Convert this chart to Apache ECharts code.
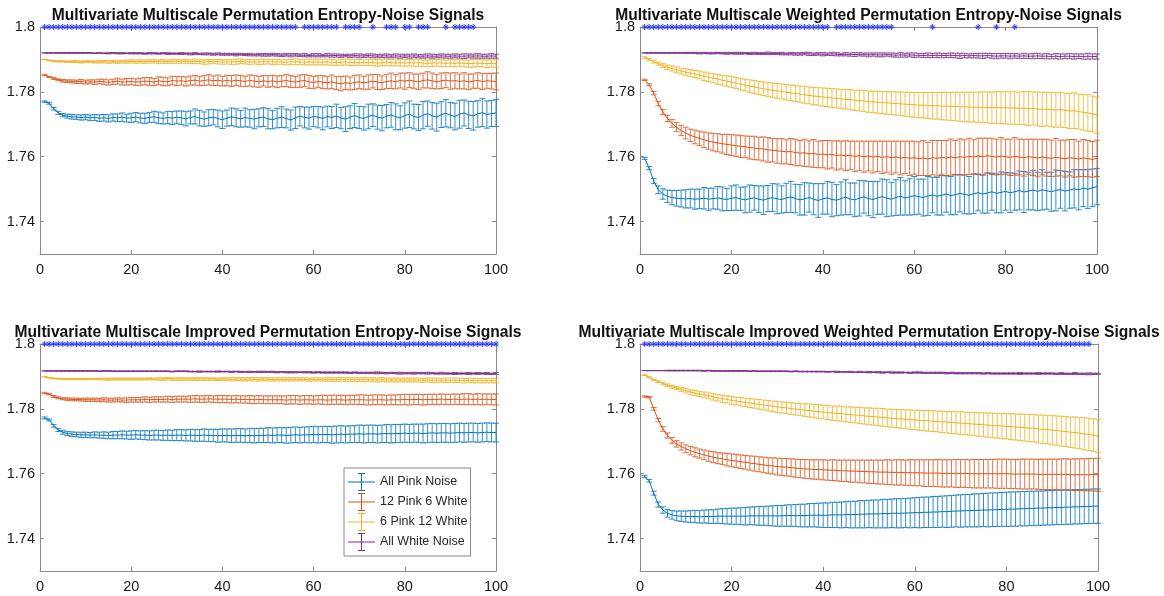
<!DOCTYPE html>
<html><head><meta charset="utf-8">
<script src="https://cdn.jsdelivr.net/npm/echarts@6/dist/echarts.min.js"></script>
<style>html,body{margin:0;padding:0;background:#fff}#c{width:1164px;height:596px}</style>
</head><body><div id="c"></div>
<script>
// ---------------- DATA ----------------
const scales = [1,2,3,4,5,6,7,8,9,10,11,12,13,14,15,16,17,18,19,20,21,22,23,24,25,26,27,28,29,30,31,32,33,34,35,36,37,38,39,40,41,42,43,44,45,46,47,48,49,50,51,52,53,54,55,56,57,58,59,60,61,62,63,64,65,66,67,68,69,70,71,72,73,74,75,76,77,78,79,80,81,82,83,84,85,86,87,88,89,90,91,92,93,94,95,96,97,98,99,100];
const seriesNames = ['All Pink Noise','12 Pink 6 White','6 Pink 12 White','All White Noise'];
const panelTitles = [
  'Multivariate Multiscale Permutation Entropy-Noise Signals',
  'Multivariate Multiscale Weighted Permutation Entropy-Noise Signals',
  'Multivariate Multiscale Improved Permutation Entropy-Noise Signals',
  'Multivariate Multiscale Improved Weighted Permutation Entropy-Noise Signals'
];
const yTickValues = [1.74, 1.76, 1.78, 1.8];
const sigLevel = 1.8;

// Panel 1: MMPE
const pe_pink = [1.7770,1.7765,1.7748,1.7735,1.7728,1.7725,1.7723,1.7722,1.7721,1.7722,
1.7720,1.7721,1.7719,1.7720,1.7718,1.7721,1.7720,1.7722,1.7719,1.7720,
1.7722,1.7719,1.7718,1.7721,1.7723,1.7720,1.7718,1.7721,1.7719,1.7722,
1.7720,1.7717,1.7721,1.7724,1.7719,1.7716,1.7720,1.7722,1.7718,1.7714,
1.7719,1.7723,1.7720,1.7717,1.7721,1.7718,1.7716,1.7720,1.7722,1.7717,
1.7714,1.7719,1.7722,1.7718,1.7713,1.7720,1.7725,1.7721,1.7719,1.7724,
1.7722,1.7718,1.7724,1.7721,1.7726,1.7719,1.7716,1.7722,1.7727,1.7721,
1.7718,1.7724,1.7728,1.7722,1.7719,1.7725,1.7729,1.7723,1.7720,1.7727,
1.7731,1.7724,1.7721,1.7728,1.7733,1.7726,1.7722,1.7730,1.7734,1.7728,
1.7724,1.7731,1.7735,1.7729,1.7726,1.7732,1.7736,1.7730,1.7733,1.7735];
const pe_pink_err = [0.0002,0.0003,0.0004,0.0005,0.0005,0.0006,0.0007,0.0007,0.0008,0.0008,
0.0009,0.0009,0.0010,0.0010,0.0011,0.0011,0.0012,0.0013,0.0012,0.0014,
0.0014,0.0015,0.0016,0.0015,0.0017,0.0018,0.0017,0.0019,0.0020,0.0019,
0.0021,0.0022,0.0020,0.0023,0.0024,0.0022,0.0025,0.0024,0.0026,0.0027,
0.0025,0.0027,0.0028,0.0026,0.0029,0.0027,0.0030,0.0028,0.0029,0.0031,
0.0028,0.0030,0.0032,0.0029,0.0031,0.0033,0.0030,0.0032,0.0034,0.0031,
0.0033,0.0035,0.0032,0.0034,0.0036,0.0033,0.0038,0.0035,0.0037,0.0034,
0.0036,0.0038,0.0035,0.0037,0.0039,0.0036,0.0038,0.0040,0.0037,0.0039,
0.0041,0.0038,0.0040,0.0042,0.0039,0.0041,0.0043,0.0040,0.0042,0.0039,
0.0041,0.0043,0.0040,0.0042,0.0044,0.0041,0.0043,0.0042,0.0040,0.0042];
const pe_126 = [1.7852,1.7846,1.7841,1.7837,1.7834,1.7833,1.7832,1.7831,1.7832,1.7830,
1.7831,1.7830,1.7832,1.7831,1.7829,1.7831,1.7833,1.7830,1.7831,1.7832,
1.7830,1.7831,1.7833,1.7832,1.7830,1.7834,1.7832,1.7831,1.7835,1.7833,
1.7834,1.7832,1.7835,1.7836,1.7833,1.7835,1.7837,1.7834,1.7836,1.7833,
1.7835,1.7833,1.7836,1.7834,1.7832,1.7835,1.7833,1.7831,1.7834,1.7832,
1.7834,1.7831,1.7833,1.7835,1.7832,1.7830,1.7833,1.7835,1.7831,1.7829,
1.7832,1.7830,1.7828,1.7831,1.7827,1.7825,1.7828,1.7826,1.7829,1.7831,
1.7828,1.7830,1.7833,1.7830,1.7828,1.7832,1.7834,1.7831,1.7835,1.7833,
1.7836,1.7833,1.7831,1.7835,1.7837,1.7834,1.7831,1.7834,1.7836,1.7833,
1.7835,1.7832,1.7834,1.7831,1.7833,1.7835,1.7832,1.7834,1.7833,1.7832];
const pe_126_err = [0.0002,0.0002,0.0003,0.0003,0.0004,0.0004,0.0005,0.0005,0.0006,0.0006,
0.0006,0.0007,0.0007,0.0008,0.0008,0.0008,0.0009,0.0009,0.0010,0.0010,
0.0010,0.0011,0.0011,0.0012,0.0011,0.0012,0.0013,0.0012,0.0013,0.0014,
0.0013,0.0014,0.0014,0.0015,0.0014,0.0015,0.0016,0.0015,0.0016,0.0015,
0.0016,0.0017,0.0016,0.0017,0.0016,0.0017,0.0018,0.0017,0.0016,0.0018,
0.0017,0.0018,0.0017,0.0019,0.0018,0.0017,0.0019,0.0018,0.0020,0.0019,
0.0018,0.0020,0.0019,0.0021,0.0020,0.0022,0.0021,0.0020,0.0022,0.0021,
0.0020,0.0022,0.0021,0.0023,0.0021,0.0022,0.0024,0.0022,0.0023,0.0025,
0.0023,0.0022,0.0024,0.0023,0.0025,0.0024,0.0022,0.0024,0.0023,0.0025,
0.0024,0.0023,0.0025,0.0024,0.0022,0.0024,0.0025,0.0023,0.0024,0.0026];
const pe_612 = [1.7900,1.7897,1.7895,1.7894,1.7894,1.7893,1.7893,1.7893,1.7892,1.7893,
1.7893,1.7892,1.7893,1.7893,1.7892,1.7893,1.7892,1.7893,1.7893,1.7894,
1.7893,1.7894,1.7893,1.7894,1.7894,1.7893,1.7894,1.7893,1.7894,1.7894,
1.7893,1.7894,1.7893,1.7894,1.7893,1.7892,1.7893,1.7894,1.7893,1.7892,
1.7893,1.7892,1.7893,1.7894,1.7893,1.7892,1.7893,1.7892,1.7893,1.7893,
1.7892,1.7893,1.7892,1.7891,1.7892,1.7893,1.7892,1.7891,1.7892,1.7891,
1.7892,1.7891,1.7892,1.7891,1.7890,1.7891,1.7892,1.7891,1.7890,1.7891,
1.7890,1.7891,1.7890,1.7889,1.7890,1.7891,1.7890,1.7889,1.7890,1.7889,
1.7890,1.7889,1.7890,1.7889,1.7888,1.7889,1.7890,1.7889,1.7888,1.7889,
1.7888,1.7889,1.7888,1.7887,1.7888,1.7889,1.7888,1.7887,1.7888,1.7887];
const pe_612_err = [0.0001,0.0001,0.0002,0.0002,0.0002,0.0002,0.0003,0.0003,0.0003,0.0003,
0.0003,0.0003,0.0004,0.0004,0.0004,0.0004,0.0004,0.0004,0.0005,0.0005,
0.0005,0.0005,0.0005,0.0005,0.0005,0.0006,0.0006,0.0005,0.0006,0.0006,
0.0006,0.0006,0.0006,0.0007,0.0006,0.0007,0.0007,0.0006,0.0007,0.0007,
0.0007,0.0007,0.0008,0.0007,0.0007,0.0008,0.0007,0.0008,0.0008,0.0007,
0.0008,0.0008,0.0007,0.0008,0.0008,0.0009,0.0008,0.0008,0.0009,0.0008,
0.0009,0.0008,0.0009,0.0009,0.0008,0.0009,0.0009,0.0010,0.0009,0.0009,
0.0009,0.0010,0.0009,0.0010,0.0009,0.0010,0.0010,0.0009,0.0010,0.0010,
0.0010,0.0010,0.0011,0.0010,0.0010,0.0011,0.0010,0.0011,0.0010,0.0011,
0.0011,0.0010,0.0011,0.0011,0.0012,0.0011,0.0011,0.0012,0.0011,0.0012];
const pe_white = [1.7920,1.7920,1.7920,1.7920,1.7920,1.7920,1.7920,1.7920,1.7920,1.7920,
1.7920,1.7919,1.7920,1.7919,1.7919,1.7920,1.7919,1.7919,1.7919,1.7919,
1.7919,1.7919,1.7918,1.7919,1.7919,1.7918,1.7919,1.7918,1.7918,1.7918,
1.7918,1.7918,1.7917,1.7918,1.7917,1.7917,1.7917,1.7916,1.7917,1.7916,
1.7916,1.7916,1.7915,1.7916,1.7915,1.7915,1.7914,1.7915,1.7914,1.7914,
1.7915,1.7914,1.7913,1.7914,1.7913,1.7914,1.7913,1.7913,1.7912,1.7913,
1.7913,1.7912,1.7913,1.7912,1.7912,1.7911,1.7912,1.7911,1.7912,1.7911,
1.7911,1.7912,1.7911,1.7910,1.7911,1.7911,1.7910,1.7911,1.7910,1.7911,
1.7910,1.7911,1.7910,1.7910,1.7911,1.7910,1.7910,1.7911,1.7910,1.7910,
1.7911,1.7910,1.7910,1.7911,1.7910,1.7911,1.7910,1.7910,1.7911,1.7910];
const pe_white_err = [0.0000,0.0000,0.0000,0.0001,0.0001,0.0001,0.0001,0.0001,0.0001,0.0001,
0.0001,0.0001,0.0001,0.0001,0.0002,0.0001,0.0002,0.0002,0.0001,0.0002,
0.0002,0.0002,0.0002,0.0002,0.0002,0.0002,0.0002,0.0003,0.0002,0.0002,
0.0003,0.0002,0.0003,0.0003,0.0002,0.0003,0.0003,0.0003,0.0003,0.0003,
0.0003,0.0003,0.0004,0.0003,0.0003,0.0004,0.0003,0.0004,0.0004,0.0004,
0.0004,0.0004,0.0004,0.0004,0.0005,0.0004,0.0004,0.0005,0.0004,0.0005,
0.0005,0.0004,0.0005,0.0005,0.0005,0.0005,0.0004,0.0005,0.0005,0.0006,
0.0005,0.0005,0.0006,0.0005,0.0005,0.0006,0.0005,0.0006,0.0006,0.0005,
0.0006,0.0006,0.0005,0.0006,0.0006,0.0006,0.0005,0.0006,0.0006,0.0006,
0.0006,0.0006,0.0007,0.0006,0.0006,0.0007,0.0006,0.0006,0.0007,0.0006];
const pe_sig = [1,2,3,4,5,6,7,8,9,10,11,12,13,14,15,16,17,18,19,20,21,22,23,24,25,26,27,28,29,30,31,32,33,34,35,36,37,38,39,40,41,42,43,44,45,46,47,48,49,50,51,52,53,54,55,56,58,59,60,61,62,63,64,65,67,68,69,70,73,76,77,78,80,81,83,84,85,89,91,92,93,94,95];

// Panel 2: MMWPE
const wpe_pink = [1.7595,1.7565,1.7525,1.7498,1.7485,1.7478,1.7474,1.7472,1.7471,1.7470,
1.7471,1.7469,1.7470,1.7472,1.7469,1.7471,1.7473,1.7470,1.7468,1.7472,
1.7474,1.7470,1.7467,1.7471,1.7473,1.7469,1.7466,1.7471,1.7474,1.7470,
1.7468,1.7473,1.7476,1.7471,1.7467,1.7470,1.7474,1.7469,1.7465,1.7470,
1.7473,1.7468,1.7466,1.7471,1.7475,1.7470,1.7467,1.7472,1.7476,1.7471,
1.7468,1.7473,1.7477,1.7472,1.7469,1.7474,1.7478,1.7473,1.7476,1.7480,
1.7477,1.7474,1.7479,1.7482,1.7478,1.7481,1.7485,1.7480,1.7483,1.7487,
1.7484,1.7481,1.7486,1.7489,1.7485,1.7488,1.7492,1.7487,1.7490,1.7493,
1.7489,1.7492,1.7496,1.7491,1.7494,1.7497,1.7493,1.7498,1.7495,1.7492,
1.7496,1.7499,1.7494,1.7497,1.7501,1.7498,1.7503,1.7500,1.7504,1.7508];
const wpe_pink_err = [0.0003,0.0005,0.0008,0.0012,0.0016,0.0019,0.0022,0.0024,0.0026,0.0028,
0.0029,0.0031,0.0030,0.0033,0.0034,0.0032,0.0035,0.0037,0.0034,0.0038,
0.0039,0.0036,0.0040,0.0042,0.0038,0.0041,0.0044,0.0040,0.0043,0.0046,
0.0042,0.0045,0.0048,0.0044,0.0047,0.0050,0.0045,0.0048,0.0052,0.0047,
0.0050,0.0053,0.0048,0.0051,0.0054,0.0049,0.0052,0.0055,0.0050,0.0053,
0.0056,0.0051,0.0054,0.0057,0.0052,0.0055,0.0058,0.0053,0.0056,0.0059,
0.0054,0.0057,0.0060,0.0055,0.0058,0.0061,0.0056,0.0059,0.0062,0.0057,
0.0060,0.0058,0.0061,0.0056,0.0059,0.0062,0.0057,0.0060,0.0063,0.0058,
0.0061,0.0057,0.0060,0.0063,0.0058,0.0061,0.0059,0.0062,0.0057,0.0060,
0.0063,0.0058,0.0061,0.0056,0.0059,0.0062,0.0057,0.0060,0.0058,0.0056];
const wpe_126 = [1.7837,1.7822,1.7796,1.7764,1.7738,1.7718,1.7703,1.7691,1.7681,1.7673,
1.7666,1.7661,1.7657,1.7652,1.7648,1.7645,1.7643,1.7640,1.7638,1.7636,
1.7634,1.7632,1.7631,1.7628,1.7627,1.7625,1.7624,1.7621,1.7620,1.7618,
1.7617,1.7615,1.7616,1.7613,1.7611,1.7612,1.7609,1.7610,1.7607,1.7608,
1.7606,1.7607,1.7604,1.7605,1.7603,1.7604,1.7601,1.7603,1.7600,1.7602,
1.7599,1.7601,1.7598,1.7600,1.7597,1.7599,1.7596,1.7598,1.7595,1.7597,
1.7594,1.7596,1.7593,1.7597,1.7595,1.7598,1.7596,1.7599,1.7597,1.7600,
1.7598,1.7601,1.7599,1.7602,1.7600,1.7603,1.7601,1.7599,1.7602,1.7600,
1.7598,1.7601,1.7599,1.7597,1.7600,1.7598,1.7596,1.7599,1.7597,1.7595,
1.7598,1.7596,1.7594,1.7597,1.7595,1.7593,1.7596,1.7594,1.7592,1.7595];
const wpe_126_err = [0.0002,0.0003,0.0005,0.0007,0.0008,0.0010,0.0012,0.0014,0.0016,0.0018,
0.0019,0.0021,0.0022,0.0024,0.0025,0.0027,0.0028,0.0029,0.0031,0.0032,
0.0033,0.0034,0.0033,0.0035,0.0036,0.0035,0.0037,0.0038,0.0036,0.0038,
0.0039,0.0037,0.0040,0.0041,0.0039,0.0042,0.0040,0.0043,0.0041,0.0042,
0.0044,0.0042,0.0045,0.0043,0.0046,0.0044,0.0047,0.0045,0.0048,0.0046,
0.0049,0.0047,0.0050,0.0048,0.0051,0.0049,0.0052,0.0050,0.0053,0.0051,
0.0052,0.0054,0.0051,0.0053,0.0055,0.0052,0.0054,0.0056,0.0053,0.0055,
0.0054,0.0056,0.0053,0.0055,0.0057,0.0054,0.0056,0.0055,0.0057,0.0054,
0.0056,0.0058,0.0055,0.0057,0.0054,0.0056,0.0058,0.0055,0.0057,0.0056,
0.0058,0.0055,0.0057,0.0056,0.0058,0.0055,0.0057,0.0056,0.0055,0.0056];
const wpe_612 = [1.7906,1.7900,1.7893,1.7887,1.7881,1.7876,1.7872,1.7868,1.7864,1.7861,
1.7858,1.7855,1.7852,1.7848,1.7845,1.7842,1.7839,1.7836,1.7833,1.7830,
1.7827,1.7824,1.7821,1.7818,1.7815,1.7812,1.7810,1.7807,1.7805,1.7803,
1.7801,1.7799,1.7797,1.7795,1.7793,1.7791,1.7789,1.7787,1.7786,1.7784,
1.7783,1.7781,1.7780,1.7778,1.7777,1.7776,1.7774,1.7773,1.7772,1.7770,
1.7769,1.7768,1.7767,1.7766,1.7765,1.7764,1.7763,1.7762,1.7761,1.7760,
1.7759,1.7759,1.7758,1.7757,1.7757,1.7756,1.7756,1.7755,1.7755,1.7754,
1.7754,1.7753,1.7753,1.7752,1.7753,1.7752,1.7751,1.7752,1.7751,1.7751,
1.7750,1.7751,1.7749,1.7750,1.7748,1.7749,1.7747,1.7746,1.7747,1.7745,
1.7744,1.7745,1.7743,1.7741,1.7742,1.7739,1.7737,1.7735,1.7732,1.7728];
const wpe_612_err = [0.0002,0.0003,0.0004,0.0005,0.0006,0.0007,0.0008,0.0009,0.0009,0.0010,
0.0011,0.0011,0.0012,0.0013,0.0013,0.0014,0.0015,0.0015,0.0016,0.0017,
0.0017,0.0018,0.0018,0.0019,0.0020,0.0020,0.0021,0.0021,0.0022,0.0023,
0.0023,0.0024,0.0024,0.0025,0.0025,0.0026,0.0026,0.0027,0.0027,0.0028,
0.0028,0.0029,0.0029,0.0030,0.0030,0.0031,0.0031,0.0032,0.0032,0.0033,
0.0033,0.0034,0.0034,0.0035,0.0035,0.0036,0.0036,0.0037,0.0038,0.0038,
0.0039,0.0039,0.0040,0.0041,0.0041,0.0042,0.0043,0.0043,0.0044,0.0045,
0.0045,0.0046,0.0046,0.0047,0.0047,0.0048,0.0048,0.0049,0.0049,0.0050,
0.0050,0.0051,0.0050,0.0051,0.0052,0.0051,0.0052,0.0053,0.0052,0.0053,
0.0053,0.0054,0.0053,0.0054,0.0055,0.0054,0.0055,0.0056,0.0055,0.0056];
const wpe_white = [1.7920,1.7920,1.7920,1.7920,1.7920,1.7920,1.7920,1.7920,1.7920,1.7920,
1.7920,1.7920,1.7919,1.7920,1.7919,1.7919,1.7920,1.7919,1.7919,1.7919,
1.7919,1.7919,1.7919,1.7918,1.7919,1.7918,1.7918,1.7919,1.7918,1.7918,
1.7918,1.7917,1.7918,1.7917,1.7917,1.7918,1.7917,1.7916,1.7917,1.7916,
1.7916,1.7917,1.7916,1.7915,1.7916,1.7915,1.7915,1.7916,1.7915,1.7914,
1.7915,1.7914,1.7914,1.7915,1.7914,1.7913,1.7914,1.7913,1.7914,1.7913,
1.7913,1.7912,1.7913,1.7912,1.7913,1.7912,1.7912,1.7913,1.7912,1.7911,
1.7912,1.7911,1.7912,1.7911,1.7911,1.7912,1.7911,1.7910,1.7911,1.7911,
1.7910,1.7911,1.7910,1.7911,1.7910,1.7910,1.7911,1.7910,1.7910,1.7909,
1.7910,1.7909,1.7910,1.7910,1.7909,1.7910,1.7909,1.7910,1.7909,1.7909];
const wpe_white_err = [0.0000,0.0000,0.0001,0.0001,0.0001,0.0001,0.0001,0.0001,0.0001,0.0002,
0.0001,0.0002,0.0002,0.0002,0.0002,0.0002,0.0002,0.0002,0.0003,0.0002,
0.0003,0.0003,0.0002,0.0003,0.0003,0.0003,0.0003,0.0004,0.0003,0.0003,
0.0004,0.0003,0.0004,0.0004,0.0004,0.0004,0.0005,0.0004,0.0004,0.0005,
0.0004,0.0005,0.0005,0.0004,0.0005,0.0005,0.0006,0.0005,0.0005,0.0006,
0.0005,0.0006,0.0006,0.0005,0.0006,0.0006,0.0007,0.0006,0.0006,0.0007,
0.0006,0.0006,0.0007,0.0006,0.0007,0.0007,0.0006,0.0007,0.0007,0.0008,
0.0007,0.0006,0.0007,0.0007,0.0008,0.0007,0.0007,0.0008,0.0007,0.0007,
0.0008,0.0007,0.0007,0.0008,0.0007,0.0008,0.0008,0.0007,0.0008,0.0007,
0.0008,0.0008,0.0007,0.0008,0.0008,0.0007,0.0008,0.0009,0.0008,0.0008];
const wpe_sig = [1,2,3,4,5,6,7,8,9,10,11,12,13,14,15,16,17,18,19,20,21,22,23,24,25,26,27,28,29,30,31,32,33,34,35,36,37,38,39,40,41,43,44,45,46,47,48,49,50,51,52,53,54,55,64,74,78,82];

// Panel 3: MMIPE
const ipe_pink = [1.7772,1.7766,1.7748,1.7735,1.7728,1.7724,1.7722,1.7721,1.7720,1.7720,
1.7719,1.7720,1.7719,1.7719,1.7718,1.7719,1.7719,1.7720,1.7719,1.7719,
1.7720,1.7719,1.7719,1.7718,1.7719,1.7719,1.7718,1.7719,1.7718,1.7719,
1.7719,1.7718,1.7719,1.7718,1.7718,1.7719,1.7718,1.7718,1.7717,1.7718,
1.7718,1.7717,1.7718,1.7718,1.7717,1.7718,1.7717,1.7718,1.7718,1.7719,
1.7718,1.7719,1.7719,1.7718,1.7719,1.7720,1.7719,1.7720,1.7720,1.7721,
1.7720,1.7721,1.7721,1.7720,1.7721,1.7722,1.7721,1.7722,1.7722,1.7723,
1.7722,1.7723,1.7723,1.7722,1.7723,1.7724,1.7723,1.7724,1.7724,1.7725,
1.7724,1.7725,1.7725,1.7724,1.7725,1.7726,1.7725,1.7726,1.7726,1.7725,
1.7726,1.7727,1.7726,1.7727,1.7727,1.7726,1.7727,1.7728,1.7727,1.7727];
const ipe_pink_err = [0.0003,0.0003,0.0004,0.0005,0.0006,0.0006,0.0007,0.0007,0.0008,0.0008,
0.0008,0.0009,0.0009,0.0010,0.0010,0.0011,0.0011,0.0012,0.0012,0.0013,
0.0013,0.0013,0.0014,0.0014,0.0015,0.0015,0.0015,0.0016,0.0016,0.0017,
0.0017,0.0017,0.0018,0.0018,0.0018,0.0019,0.0019,0.0019,0.0020,0.0020,
0.0020,0.0021,0.0021,0.0021,0.0021,0.0022,0.0022,0.0022,0.0022,0.0023,
0.0023,0.0023,0.0023,0.0024,0.0024,0.0024,0.0024,0.0024,0.0025,0.0025,
0.0025,0.0025,0.0025,0.0026,0.0026,0.0026,0.0026,0.0026,0.0026,0.0027,
0.0027,0.0027,0.0027,0.0027,0.0027,0.0028,0.0028,0.0028,0.0028,0.0028,
0.0028,0.0028,0.0028,0.0029,0.0029,0.0029,0.0029,0.0029,0.0029,0.0029,
0.0029,0.0029,0.0029,0.0029,0.0029,0.0029,0.0029,0.0029,0.0029,0.0029];
const ipe_126 = [1.7849,1.7845,1.7838,1.7834,1.7831,1.7830,1.7829,1.7829,1.7828,1.7828,
1.7828,1.7828,1.7827,1.7828,1.7827,1.7827,1.7828,1.7827,1.7827,1.7828,
1.7828,1.7828,1.7829,1.7828,1.7829,1.7829,1.7829,1.7830,1.7829,1.7830,
1.7830,1.7830,1.7830,1.7831,1.7830,1.7830,1.7831,1.7830,1.7830,1.7830,
1.7830,1.7829,1.7830,1.7829,1.7829,1.7829,1.7828,1.7829,1.7828,1.7828,
1.7828,1.7828,1.7828,1.7827,1.7828,1.7828,1.7827,1.7828,1.7828,1.7827,
1.7828,1.7828,1.7827,1.7828,1.7828,1.7828,1.7827,1.7828,1.7828,1.7828,
1.7828,1.7827,1.7828,1.7828,1.7828,1.7827,1.7828,1.7828,1.7828,1.7829,
1.7828,1.7829,1.7829,1.7828,1.7829,1.7829,1.7829,1.7830,1.7829,1.7829,
1.7830,1.7829,1.7830,1.7830,1.7829,1.7830,1.7829,1.7830,1.7829,1.7829];
const ipe_126_err = [0.0002,0.0002,0.0003,0.0003,0.0003,0.0004,0.0004,0.0004,0.0004,0.0005,
0.0005,0.0005,0.0005,0.0006,0.0006,0.0006,0.0006,0.0006,0.0007,0.0007,
0.0007,0.0007,0.0008,0.0008,0.0008,0.0008,0.0008,0.0009,0.0009,0.0009,
0.0009,0.0009,0.0010,0.0010,0.0010,0.0010,0.0010,0.0010,0.0011,0.0011,
0.0011,0.0011,0.0011,0.0011,0.0011,0.0012,0.0012,0.0012,0.0012,0.0012,
0.0012,0.0012,0.0012,0.0013,0.0013,0.0013,0.0013,0.0013,0.0013,0.0013,
0.0013,0.0014,0.0014,0.0014,0.0014,0.0014,0.0014,0.0014,0.0014,0.0015,
0.0015,0.0015,0.0015,0.0015,0.0015,0.0015,0.0015,0.0015,0.0016,0.0016,
0.0016,0.0016,0.0016,0.0016,0.0016,0.0016,0.0016,0.0016,0.0016,0.0016,
0.0016,0.0016,0.0017,0.0017,0.0016,0.0017,0.0017,0.0016,0.0017,0.0017];
const ipe_612 = [1.7899,1.7896,1.7894,1.7893,1.7892,1.7892,1.7892,1.7892,1.7892,1.7892,
1.7892,1.7892,1.7892,1.7892,1.7891,1.7892,1.7892,1.7892,1.7892,1.7892,
1.7892,1.7892,1.7892,1.7893,1.7892,1.7892,1.7892,1.7893,1.7892,1.7892,
1.7892,1.7892,1.7892,1.7892,1.7892,1.7892,1.7892,1.7892,1.7891,1.7892,
1.7892,1.7891,1.7892,1.7892,1.7891,1.7892,1.7891,1.7891,1.7892,1.7891,
1.7891,1.7891,1.7891,1.7891,1.7891,1.7891,1.7891,1.7891,1.7890,1.7891,
1.7891,1.7890,1.7891,1.7890,1.7890,1.7891,1.7890,1.7890,1.7890,1.7890,
1.7890,1.7890,1.7890,1.7889,1.7890,1.7889,1.7889,1.7889,1.7889,1.7889,
1.7889,1.7889,1.7889,1.7888,1.7889,1.7888,1.7888,1.7888,1.7888,1.7888,
1.7888,1.7888,1.7887,1.7888,1.7887,1.7887,1.7887,1.7887,1.7887,1.7887];
const ipe_612_err = [0.0001,0.0001,0.0001,0.0001,0.0002,0.0002,0.0002,0.0002,0.0002,0.0002,
0.0002,0.0002,0.0002,0.0003,0.0003,0.0003,0.0003,0.0003,0.0003,0.0003,
0.0003,0.0003,0.0003,0.0003,0.0003,0.0004,0.0004,0.0004,0.0004,0.0004,
0.0004,0.0004,0.0004,0.0004,0.0004,0.0004,0.0004,0.0004,0.0004,0.0004,
0.0004,0.0005,0.0005,0.0005,0.0005,0.0005,0.0005,0.0005,0.0005,0.0005,
0.0005,0.0005,0.0005,0.0005,0.0005,0.0005,0.0005,0.0005,0.0005,0.0005,
0.0005,0.0005,0.0006,0.0006,0.0006,0.0006,0.0006,0.0006,0.0006,0.0006,
0.0006,0.0006,0.0006,0.0006,0.0006,0.0006,0.0006,0.0006,0.0006,0.0006,
0.0006,0.0006,0.0006,0.0006,0.0006,0.0007,0.0007,0.0006,0.0007,0.0007,
0.0007,0.0007,0.0007,0.0007,0.0007,0.0007,0.0007,0.0007,0.0007,0.0007];
const ipe_white = [1.7917,1.7917,1.7917,1.7917,1.7917,1.7917,1.7917,1.7917,1.7917,1.7917,
1.7917,1.7917,1.7916,1.7917,1.7917,1.7916,1.7916,1.7916,1.7916,1.7916,
1.7916,1.7916,1.7916,1.7916,1.7916,1.7916,1.7916,1.7916,1.7915,1.7916,
1.7916,1.7916,1.7915,1.7915,1.7915,1.7915,1.7915,1.7915,1.7915,1.7915,
1.7915,1.7914,1.7915,1.7914,1.7914,1.7914,1.7914,1.7914,1.7914,1.7914,
1.7914,1.7913,1.7914,1.7913,1.7913,1.7913,1.7913,1.7913,1.7913,1.7912,
1.7913,1.7912,1.7912,1.7912,1.7912,1.7912,1.7912,1.7911,1.7912,1.7911,
1.7911,1.7911,1.7911,1.7911,1.7911,1.7910,1.7911,1.7910,1.7910,1.7910,
1.7910,1.7910,1.7910,1.7910,1.7910,1.7910,1.7909,1.7910,1.7909,1.7909,
1.7909,1.7909,1.7909,1.7909,1.7909,1.7909,1.7909,1.7909,1.7908,1.7909];
const ipe_white_err = [0.0000,0.0000,0.0000,0.0000,0.0001,0.0001,0.0001,0.0001,0.0001,0.0001,
0.0001,0.0001,0.0001,0.0001,0.0001,0.0001,0.0001,0.0001,0.0001,0.0001,
0.0001,0.0001,0.0001,0.0001,0.0001,0.0001,0.0001,0.0001,0.0001,0.0001,
0.0001,0.0001,0.0001,0.0001,0.0002,0.0001,0.0001,0.0001,0.0002,0.0001,
0.0001,0.0002,0.0001,0.0002,0.0001,0.0002,0.0001,0.0002,0.0002,0.0001,
0.0002,0.0002,0.0001,0.0002,0.0002,0.0002,0.0001,0.0002,0.0002,0.0002,
0.0002,0.0002,0.0002,0.0002,0.0002,0.0002,0.0002,0.0002,0.0002,0.0002,
0.0002,0.0002,0.0002,0.0003,0.0002,0.0002,0.0002,0.0002,0.0003,0.0002,
0.0002,0.0003,0.0002,0.0002,0.0003,0.0002,0.0002,0.0003,0.0002,0.0002,
0.0003,0.0002,0.0002,0.0003,0.0002,0.0003,0.0002,0.0003,0.0002,0.0003];
const ipe_sig = [1,2,3,4,5,6,7,8,9,10,11,12,13,14,15,16,17,18,19,20,21,22,23,24,25,26,27,28,29,30,31,32,33,34,35,36,37,38,39,40,41,42,43,44,45,46,47,48,49,50,51,52,53,54,55,56,57,58,59,60,61,62,63,64,65,66,67,68,69,70,71,72,73,74,75,76,77,78,79,80,81,82,83,84,85,86,87,88,89,90,91,92,93,94,95,96,97,98,99,100];

// Panel 4: MMIWPE
const iwpe_pink = [1.7592,1.7578,1.7540,1.7505,1.7488,1.7478,1.7473,1.7470,1.7469,1.7468,
1.7468,1.7468,1.7467,1.7468,1.7468,1.7468,1.7469,1.7469,1.7469,1.7469,
1.7469,1.7469,1.7469,1.7470,1.7470,1.7470,1.7470,1.7470,1.7470,1.7470,
1.7470,1.7471,1.7471,1.7471,1.7471,1.7471,1.7472,1.7472,1.7472,1.7472,
1.7472,1.7473,1.7473,1.7473,1.7474,1.7474,1.7474,1.7475,1.7475,1.7476,
1.7476,1.7476,1.7477,1.7477,1.7478,1.7478,1.7478,1.7479,1.7479,1.7480,
1.7480,1.7481,1.7481,1.7482,1.7482,1.7483,1.7483,1.7484,1.7485,1.7485,
1.7486,1.7486,1.7487,1.7487,1.7488,1.7488,1.7489,1.7489,1.7490,1.7490,
1.7491,1.7491,1.7492,1.7492,1.7493,1.7493,1.7494,1.7494,1.7495,1.7495,
1.7496,1.7496,1.7497,1.7497,1.7498,1.7498,1.7499,1.7499,1.7500,1.7500];
const iwpe_pink_err = [0.0003,0.0004,0.0006,0.0008,0.0010,0.0012,0.0013,0.0015,0.0016,0.0017,
0.0018,0.0019,0.0019,0.0020,0.0021,0.0021,0.0022,0.0023,0.0024,0.0025,
0.0025,0.0026,0.0027,0.0027,0.0028,0.0029,0.0029,0.0030,0.0031,0.0032,
0.0032,0.0033,0.0033,0.0034,0.0035,0.0035,0.0036,0.0036,0.0037,0.0038,
0.0038,0.0039,0.0039,0.0040,0.0040,0.0041,0.0041,0.0042,0.0042,0.0042,
0.0043,0.0043,0.0044,0.0044,0.0044,0.0045,0.0045,0.0045,0.0046,0.0046,
0.0047,0.0047,0.0047,0.0048,0.0048,0.0048,0.0049,0.0049,0.0049,0.0050,
0.0050,0.0050,0.0051,0.0051,0.0051,0.0052,0.0052,0.0052,0.0052,0.0053,
0.0053,0.0053,0.0053,0.0053,0.0053,0.0053,0.0053,0.0053,0.0053,0.0053,
0.0053,0.0053,0.0053,0.0053,0.0053,0.0053,0.0053,0.0053,0.0053,0.0053];
const iwpe_126 = [1.7838,1.7836,1.7800,1.7765,1.7738,1.7718,1.7703,1.7692,1.7684,1.7677,
1.7671,1.7666,1.7662,1.7658,1.7654,1.7651,1.7648,1.7646,1.7643,1.7641,
1.7639,1.7637,1.7635,1.7633,1.7631,1.7629,1.7627,1.7625,1.7624,1.7622,
1.7621,1.7620,1.7619,1.7617,1.7616,1.7615,1.7614,1.7613,1.7613,1.7612,
1.7611,1.7611,1.7610,1.7609,1.7609,1.7608,1.7608,1.7607,1.7607,1.7606,
1.7606,1.7605,1.7605,1.7605,1.7604,1.7604,1.7604,1.7603,1.7603,1.7603,
1.7603,1.7602,1.7602,1.7602,1.7602,1.7601,1.7601,1.7601,1.7601,1.7601,
1.7601,1.7600,1.7600,1.7600,1.7600,1.7600,1.7600,1.7600,1.7600,1.7600,
1.7599,1.7599,1.7599,1.7599,1.7599,1.7599,1.7598,1.7598,1.7598,1.7598,
1.7598,1.7598,1.7598,1.7597,1.7597,1.7597,1.7597,1.7597,1.7597,1.7597];
const iwpe_126_err = [0.0002,0.0002,0.0004,0.0005,0.0007,0.0008,0.0009,0.0010,0.0011,0.0012,
0.0013,0.0014,0.0014,0.0015,0.0016,0.0017,0.0017,0.0018,0.0019,0.0020,
0.0020,0.0021,0.0021,0.0022,0.0023,0.0023,0.0024,0.0024,0.0025,0.0026,
0.0026,0.0027,0.0027,0.0028,0.0028,0.0029,0.0029,0.0030,0.0030,0.0031,
0.0031,0.0032,0.0032,0.0033,0.0033,0.0034,0.0034,0.0035,0.0035,0.0036,
0.0036,0.0037,0.0037,0.0038,0.0038,0.0039,0.0039,0.0039,0.0040,0.0040,
0.0040,0.0041,0.0041,0.0041,0.0042,0.0042,0.0042,0.0042,0.0043,0.0043,
0.0043,0.0043,0.0044,0.0044,0.0044,0.0044,0.0044,0.0045,0.0045,0.0045,
0.0045,0.0045,0.0046,0.0046,0.0046,0.0046,0.0046,0.0047,0.0047,0.0047,
0.0047,0.0048,0.0048,0.0048,0.0049,0.0049,0.0049,0.0050,0.0050,0.0051];
const iwpe_612 = [1.7904,1.7897,1.7890,1.7884,1.7878,1.7873,1.7868,1.7864,1.7860,1.7856,
1.7852,1.7849,1.7846,1.7843,1.7840,1.7837,1.7834,1.7831,1.7829,1.7826,
1.7824,1.7822,1.7820,1.7818,1.7816,1.7814,1.7812,1.7810,1.7808,1.7806,
1.7804,1.7803,1.7801,1.7799,1.7798,1.7796,1.7795,1.7793,1.7792,1.7790,
1.7789,1.7787,1.7786,1.7785,1.7783,1.7782,1.7781,1.7780,1.7778,1.7777,
1.7776,1.7775,1.7774,1.7772,1.7771,1.7770,1.7769,1.7768,1.7767,1.7766,
1.7765,1.7764,1.7763,1.7762,1.7761,1.7760,1.7759,1.7758,1.7757,1.7756,
1.7755,1.7754,1.7753,1.7752,1.7751,1.7750,1.7749,1.7748,1.7747,1.7746,
1.7745,1.7744,1.7743,1.7742,1.7741,1.7740,1.7738,1.7737,1.7736,1.7734,
1.7733,1.7731,1.7730,1.7728,1.7727,1.7725,1.7723,1.7721,1.7719,1.7716];
const iwpe_612_err = [0.0001,0.0002,0.0002,0.0003,0.0004,0.0004,0.0005,0.0005,0.0006,0.0007,
0.0007,0.0008,0.0008,0.0009,0.0009,0.0010,0.0010,0.0011,0.0011,0.0012,
0.0012,0.0013,0.0013,0.0014,0.0014,0.0015,0.0015,0.0016,0.0016,0.0017,
0.0017,0.0017,0.0018,0.0018,0.0019,0.0019,0.0020,0.0020,0.0021,0.0021,
0.0022,0.0022,0.0023,0.0023,0.0023,0.0024,0.0024,0.0025,0.0025,0.0026,
0.0026,0.0027,0.0027,0.0027,0.0028,0.0028,0.0029,0.0029,0.0030,0.0030,
0.0031,0.0031,0.0032,0.0032,0.0032,0.0033,0.0033,0.0034,0.0034,0.0035,
0.0035,0.0035,0.0036,0.0036,0.0037,0.0037,0.0038,0.0038,0.0039,0.0039,
0.0040,0.0040,0.0041,0.0041,0.0042,0.0042,0.0043,0.0044,0.0044,0.0045,
0.0045,0.0046,0.0046,0.0047,0.0048,0.0048,0.0049,0.0050,0.0050,0.0051];
const iwpe_white = [1.7918,1.7918,1.7918,1.7918,1.7918,1.7918,1.7918,1.7918,1.7918,1.7918,
1.7918,1.7918,1.7918,1.7917,1.7918,1.7917,1.7917,1.7917,1.7917,1.7917,
1.7917,1.7917,1.7917,1.7916,1.7917,1.7916,1.7916,1.7916,1.7916,1.7916,
1.7916,1.7916,1.7915,1.7916,1.7915,1.7915,1.7915,1.7915,1.7915,1.7915,
1.7914,1.7915,1.7914,1.7914,1.7914,1.7914,1.7913,1.7914,1.7913,1.7913,
1.7913,1.7913,1.7912,1.7913,1.7912,1.7912,1.7912,1.7912,1.7911,1.7912,
1.7912,1.7911,1.7911,1.7911,1.7911,1.7911,1.7910,1.7911,1.7910,1.7910,
1.7910,1.7910,1.7910,1.7910,1.7909,1.7910,1.7909,1.7909,1.7909,1.7909,
1.7909,1.7909,1.7909,1.7909,1.7909,1.7909,1.7909,1.7909,1.7909,1.7909,
1.7908,1.7909,1.7908,1.7908,1.7909,1.7908,1.7908,1.7908,1.7908,1.7908];
const iwpe_white_err = [0.0000,0.0000,0.0000,0.0000,0.0000,0.0001,0.0001,0.0001,0.0001,0.0001,
0.0001,0.0001,0.0001,0.0001,0.0001,0.0001,0.0001,0.0001,0.0001,0.0001,
0.0001,0.0001,0.0001,0.0001,0.0001,0.0001,0.0001,0.0001,0.0001,0.0001,
0.0001,0.0001,0.0001,0.0001,0.0001,0.0001,0.0001,0.0001,0.0001,0.0001,
0.0001,0.0001,0.0002,0.0001,0.0001,0.0002,0.0001,0.0002,0.0001,0.0002,
0.0001,0.0002,0.0002,0.0001,0.0002,0.0002,0.0002,0.0001,0.0002,0.0002,
0.0002,0.0002,0.0002,0.0002,0.0002,0.0002,0.0002,0.0002,0.0002,0.0002,
0.0002,0.0002,0.0002,0.0002,0.0002,0.0002,0.0002,0.0002,0.0002,0.0002,
0.0002,0.0002,0.0003,0.0002,0.0002,0.0002,0.0003,0.0002,0.0002,0.0002,
0.0002,0.0003,0.0002,0.0002,0.0003,0.0002,0.0002,0.0003,0.0002,0.0002];
const iwpe_sig = [1,2,3,4,5,6,7,8,9,10,11,12,13,14,15,16,17,18,19,20,21,22,23,24,25,26,27,28,29,30,31,32,33,34,35,36,37,38,39,40,41,42,43,44,45,46,47,48,49,50,51,52,53,54,55,56,57,58,59,60,61,62,63,64,65,66,67,68,69,70,71,72,73,74,75,76,77,78,79,80,81,82,83,84,85,86,87,88,89,90,91,92,93,94,95,96,97,98];

// ---------------- BUILD ----------------
const panels = [
  {means:[pe_pink,pe_126,pe_612,pe_white], errs:[pe_pink_err,pe_126_err,pe_612_err,pe_white_err], sig:pe_sig},
  {means:[wpe_pink,wpe_126,wpe_612,wpe_white], errs:[wpe_pink_err,wpe_126_err,wpe_612_err,wpe_white_err], sig:wpe_sig},
  {means:[ipe_pink,ipe_126,ipe_612,ipe_white], errs:[ipe_pink_err,ipe_126_err,ipe_612_err,ipe_white_err], sig:ipe_sig},
  {means:[iwpe_pink,iwpe_126,iwpe_612,iwpe_white], errs:[iwpe_pink_err,iwpe_126_err,iwpe_612_err,iwpe_white_err], sig:iwpe_sig}
];
const colors = ['#0072BD','#D95319','#EDB120','#7E2F8E'];
const grids = [
  {left:40, top:27, width:456, height:227},
  {left:640, top:27, width:457, height:227},
  {left:40, top:344, width:456, height:227},
  {left:640, top:344, width:458, height:227}
];
const titlePos = [[268,7],[868.5,7],[268,324],[869,324]];
const FONT = 'Liberation Sans, Arial, Helvetica, sans-serif';
const AX = '#8a8a8a';
const TXT = '#1a1a1a';

function errRender(params, api) {
  const x = api.value(0), m = api.value(1), e = api.value(2);
  const hi = api.coord([x, m + e]), lo = api.coord([x, m - e]);
  const c = api.visual('color');
  const cw = 3;
  const st = {stroke: c, lineWidth: 1, opacity: 0.8};
  return {type: 'group', children: [
    {type: 'line', shape: {x1: hi[0], y1: hi[1], x2: lo[0], y2: lo[1]}, style: st},
    {type: 'line', shape: {x1: hi[0] - cw, y1: hi[1], x2: hi[0] + cw, y2: hi[1]}, style: st},
    {type: 'line', shape: {x1: lo[0] - cw, y1: lo[1], x2: lo[0] + cw, y2: lo[1]}, style: st}
  ]};
}
function starRender(params, api) {
  const p = api.coord([api.value(0), api.value(1)]);
  const r = 3, d = 2.1;
  const st = {stroke: '#2233ff', lineWidth: 0.9};
  return {type: 'group', children: [
    {type: 'line', shape: {x1: p[0] - r, y1: p[1], x2: p[0] + r, y2: p[1]}, style: st},
    {type: 'line', shape: {x1: p[0], y1: p[1] - r, x2: p[0], y2: p[1] + r}, style: st},
    {type: 'line', shape: {x1: p[0] - d, y1: p[1] - d, x2: p[0] + d, y2: p[1] + d}, style: st},
    {type: 'line', shape: {x1: p[0] - d, y1: p[1] + d, x2: p[0] + d, y2: p[1] - d}, style: st}
  ]};
}

const xAxes = [], yAxes = [], series = [];
grids.forEach((g, gi) => {
  const tick = {show: true, inside: true, length: 4, lineStyle: {color: AX, width: 1}};
  const line = {show: true, onZero: false, lineStyle: {color: AX, width: 1}};
  xAxes.push({type: 'value', gridIndex: gi, position: 'bottom', min: 0, max: 100, interval: 20,
    axisLine: line, axisTick: tick, splitLine: {show: false},
    axisLabel: {fontFamily: FONT, fontSize: 14.5, color: TXT, margin: 8}});
  xAxes.push({type: 'value', gridIndex: gi, position: 'top', min: 0, max: 100, interval: 20,
    axisLine: line, axisTick: tick, splitLine: {show: false}, axisLabel: {show: false}});
  yAxes.push({type: 'value', gridIndex: gi, position: 'left', min: 1.73, max: 1.8,
    axisLine: line, axisTick: Object.assign({customValues: yTickValues}, tick), splitLine: {show: false},
    axisLabel: {customValues: yTickValues, fontFamily: FONT, fontSize: 14.5, color: TXT, margin: 5,
      formatter: v => String(Math.round(v * 100) / 100)}});
  yAxes.push({type: 'value', gridIndex: gi, position: 'right', min: 1.73, max: 1.8,
    axisLine: line, axisTick: Object.assign({customValues: yTickValues}, tick), splitLine: {show: false},
    axisLabel: {show: false}});
  const P = panels[gi];
  for (let k = 0; k < 4; k++) {
    series.push({type: 'custom', xAxisIndex: gi * 2, yAxisIndex: gi * 2, silent: true,
      itemStyle: {color: colors[k]}, renderItem: errRender, encode: {x: 0, y: 1},
      data: scales.map((s, i) => [s, P.means[k][i], P.errs[k][i]])});
    series.push({type: 'line', name: seriesNames[k], xAxisIndex: gi * 2, yAxisIndex: gi * 2,
      symbol: 'none', showSymbol: false, color: colors[k], silent: true,
      lineStyle: {width: 1, color: colors[k]}, itemStyle: {color: colors[k]},
      data: scales.map((s, i) => [s, P.means[k][i]])});
  }
  series.push({type: 'custom', xAxisIndex: gi * 2, yAxisIndex: gi * 2, silent: true, clip: false,
    renderItem: starRender, encode: {x: 0, y: 1},
    data: P.sig.map(s => [s, sigLevel])});
});

const option = {
  animation: false,
  backgroundColor: '#fff',
  title: panelTitles.map((t, i) => ({text: t, left: titlePos[i][0], top: titlePos[i][1], textAlign: 'center', padding: 0,
    textStyle: {fontFamily: FONT, fontWeight: 'bold', fontSize: 15.6, color: '#111', lineHeight: 18}})),
  grid: grids,
  xAxis: xAxes,
  yAxis: yAxes,
  legend: {data: seriesNames, orient: 'vertical', left: 344, top: 468, itemWidth: 27, itemHeight: 18, itemGap: 2,
    padding: [5, 3, 5, 4], borderColor: AX, borderWidth: 1, backgroundColor: '#fff', selectedMode: false,
    icon: 'path://M0,8.5H27V9.5H0Z M13,0H14V18H13Z M10,0H17V1H10Z M10,17H17V18H10Z',
    textStyle: {fontFamily: FONT, fontSize: 12.5, color: '#262626'}},
  series: series
};
const chart = echarts.init(document.getElementById('c'), null, {renderer: 'canvas'});
chart.setOption(option);
</script>
</body></html>
